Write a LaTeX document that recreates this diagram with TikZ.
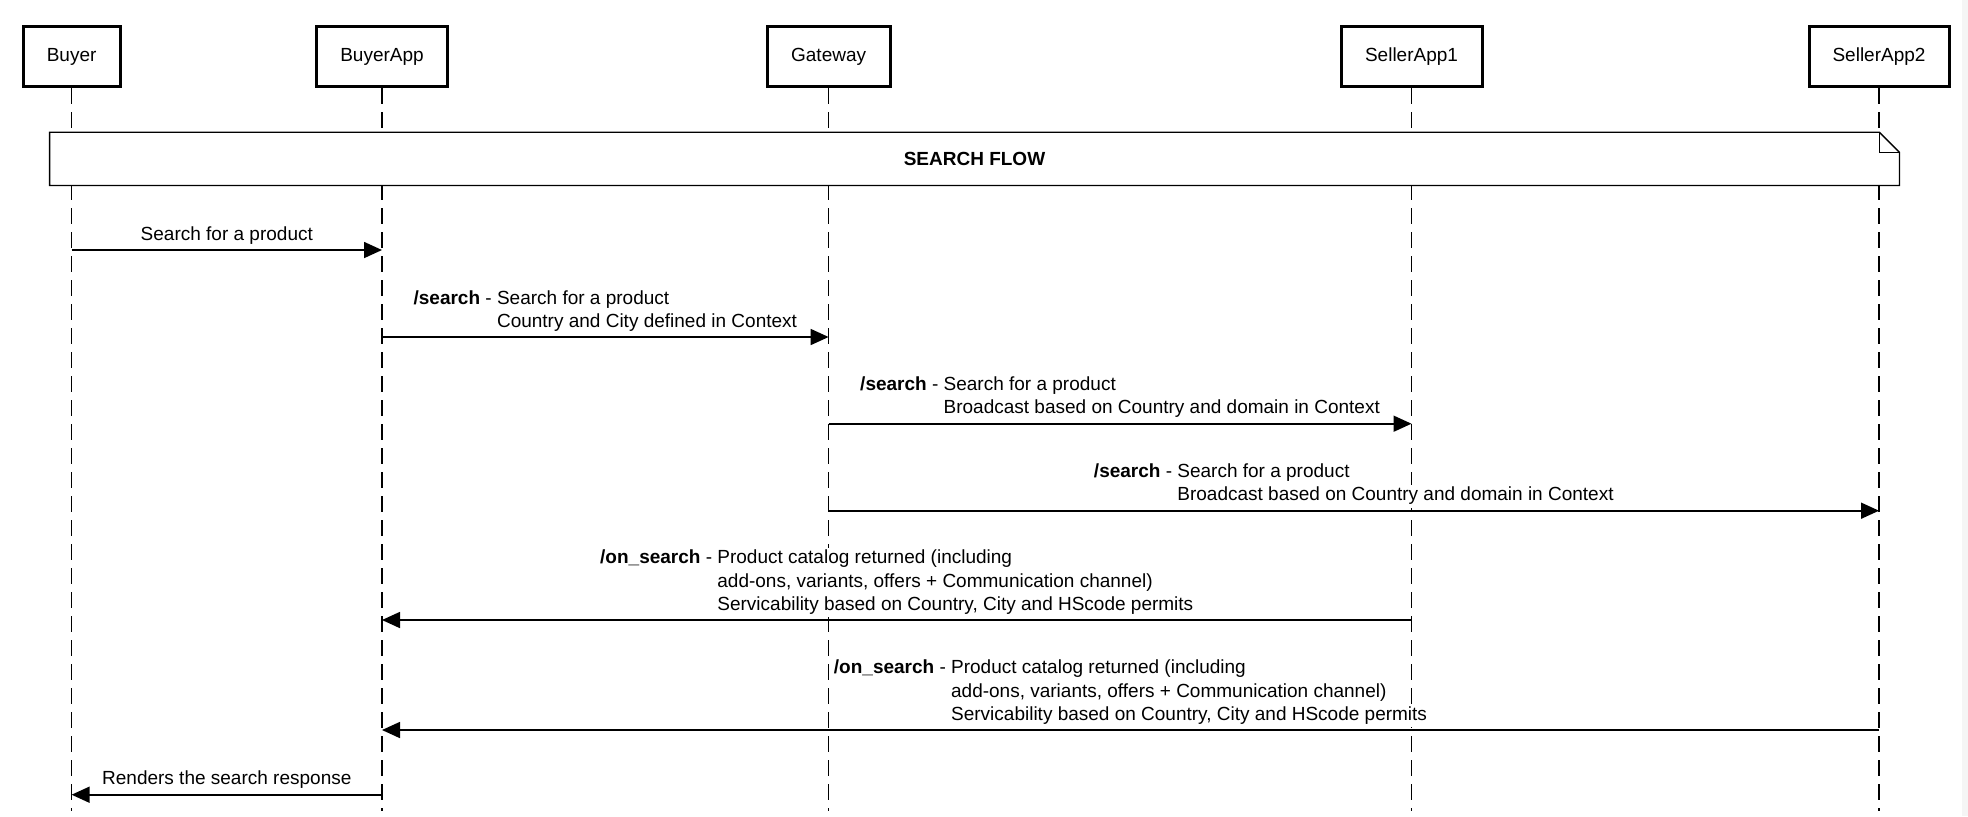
\documentclass[tikz,border=0pt]{standalone}
\usepackage{fontspec}
\setmainfont{Liberation Sans}
\usetikzlibrary{arrows.meta}
\newcommand{\fond}[1]{{\setlength{\fboxsep}{0pt}\colorbox{white}{\strut#1}}}
\begin{document}
\begin{tikzpicture}[>={Triangle[length=9pt,width=8pt]}, x=0.5pt, y=-0.5pt, font=\fontsize{9.5}{11.6}\selectfont]
\tikzstyle{acteur}=[rectangle,draw,line width=1.5pt,minimum height=30pt,fill=white]
\tikzstyle{vie}=[dash pattern=on 8pt off 4pt,line width=0.7pt]
\tikzstyle{msg}=[->,line width=0.85pt]
\tikzstyle{lbl}=[above=0.5pt,inner sep=0.5pt,midway]
\useasboundingbox (0,0) rectangle (1968,816);
\fill[black!4] (1962,0) rectangle (1968,816);
\coordinate (fin) at (0,811);
\node[acteur,minimum width=48.5pt](bu) at (71.6,56.5) {Buyer};
\node[acteur,minimum width=65.75pt](ba) at (382,56.5) {BuyerApp};
\node[acteur,minimum width=61.5pt](gw) at (828.6,56.5) {Gateway};
\node[acteur,minimum width=70.5pt](s1) at (1411.5,56.5) {SellerApp1};
\node[acteur,minimum width=70pt](s2) at (1879,56.5) {SellerApp2};
\draw[vie] (bu.south) -- (bu.south |- fin);
\draw[vie] (ba.south) -- (ba.south |- fin);
\draw[vie] (gw.south) -- (gw.south |- fin);
\draw[vie] (s1.south) -- (s1.south |- fin);
\draw[vie] (s2.south) -- (s2.south |- fin);
\node[fill=white,inner sep=0pt,minimum width=924.5pt,minimum height=26.15pt](note) at (974.5,158.85) {\textbf{SEARCH FLOW}};
\draw[line width=0.65pt] (note.north west) -- ([xshift=-10pt]note.north east) -- ([yshift=-10pt]note.north east) -- (note.south east) -- (note.south west) -- cycle;
\draw[line width=0.65pt] ([xshift=-10pt]note.north east) |- ([yshift=-10pt]note.north east);
\coordinate (y1) at (0,250);
\coordinate (y2) at (0,337);
\coordinate (y3) at (0,423.7);
\coordinate (y4) at (0,510.7);
\coordinate (y5) at (0,620);
\coordinate (y6) at (0,730);
\coordinate (y7) at (0,794.7);
\draw[msg] (bu |- y1) -- (ba |- y1) node[lbl]{\fond{Search for a product}};
\draw[msg] (ba |- y2) -- (gw |- y2) node[lbl]{\fond{\textbf{/search} - }\begin{tabular}[t]{@{}l@{}}\fond{Search for a product}\\\fond{Country and City defined in Context}\end{tabular}};
\draw[msg] (gw |- y3) -- (s1 |- y3) node[lbl]{\fond{\textbf{/search} - }\begin{tabular}[t]{@{}l@{}}\fond{Search for a product}\\\fond{Broadcast based on Country and domain in Context}\end{tabular}};
\draw[msg] (gw |- y4) -- (s2 |- y4) node[lbl]{\fond{\textbf{/search} - }\begin{tabular}[t]{@{}l@{}}\fond{Search for a product}\\\fond{Broadcast based on Country and domain in Context}\end{tabular}};
\draw[msg] (s1 |- y5) -- (ba |- y5) node[lbl]{\fond{\textbf{/on\_search} - }\begin{tabular}[t]{@{}l@{}}\fond{Product catalog returned (including}\\\fond{add-ons, variants, offers + Communication channel)}\\\fond{Servicability based on Country, City and HScode permits}\end{tabular}};
\draw[msg] (s2 |- y6) -- (ba |- y6) node[lbl]{\fond{\textbf{/on\_search} - }\begin{tabular}[t]{@{}l@{}}\fond{Product catalog returned (including}\\\fond{add-ons, variants, offers + Communication channel)}\\\fond{Servicability based on Country, City and HScode permits}\end{tabular}};
\draw[msg] (ba |- y7) -- (bu |- y7) node[lbl]{\fond{Renders the search response}};
\end{tikzpicture}
\end{document}
